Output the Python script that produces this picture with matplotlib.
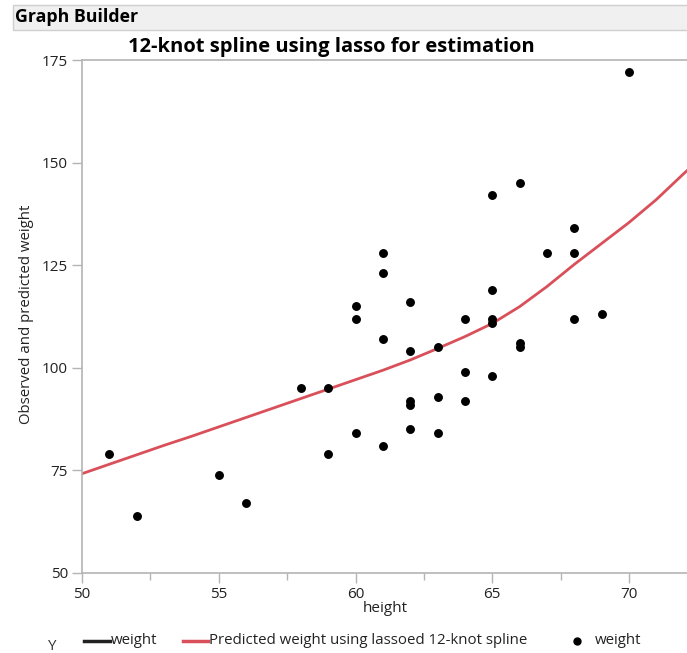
import matplotlib
matplotlib.use("Agg")
import matplotlib.pyplot as plt
from matplotlib.patches import Rectangle
from matplotlib.lines import Line2D

plt.rcParams['font.family'] = ['Open Sans', 'DejaVu Sans']

# Observed data
height = [51, 52, 55, 56, 58, 59, 59, 60, 60, 60, 61, 61, 61, 61,
          62, 62, 62, 62, 62, 63, 63, 63, 64, 64, 64,
          65, 65, 65, 65, 65, 66, 66, 66, 67, 68, 68, 68, 69, 70]
weight = [79, 64, 74, 67, 95, 95, 79, 115, 112, 84, 128, 123, 107, 81,
          116, 104, 92, 91, 85, 105, 93, 84, 112, 99, 92,
          142, 119, 112, 111, 98, 145, 106, 105, 128, 134, 128, 112, 113, 172]

# Predicted weight from the lassoed 12-knot spline
spline_height = [50, 51, 52, 53, 54, 55, 56, 57, 58, 59, 60, 61,
                 62, 63, 64, 65, 66, 67, 68, 69, 70, 71, 72, 72.2]
spline_weight = [74.2, 76.5, 78.8, 81.1, 83.3, 85.6, 87.9, 90.2, 92.5, 94.8, 97.1, 99.4,
                 101.9, 104.7, 107.6, 110.8, 114.9, 119.8, 125.2, 130.3, 135.4, 141.0, 147.3, 148.5]

x_ticks = [50, 55, 60, 65, 70]
y_ticks = [50, 75, 100, 125, 150, 175]

W, H = 687, 653
fig = plt.figure(figsize=(W / 100, H / 100), dpi=100)

def fx(px):
    return px / W

def fy(py):
    return 1 - py / H

TXT = '#222222'
GRID = '#B4B4B4'
RED = '#D9505A'

# Header bar
fig.patches.append(Rectangle((fx(13), fy(30)), fx(680), 25 / H, transform=fig.transFigure,
                             facecolor='#F0F0F0', edgecolor='#CFCFCF', linewidth=1.0))
fig.text(fx(15), fy(17.5), 'Graph Builder', fontsize=12.8, fontweight='bold',
         va='center', ha='left', color='black')

ax_right_px = 692
x_scale = 27.35  # pixels per unit of height
ax = fig.add_axes([fx(82), fy(573), fx(ax_right_px - 82), (573 - 60) / H])
ax.set_xlim(50, 50 + (ax_right_px - 82) / x_scale)
ax.set_ylim(50, 175)

ax.plot(spline_height, spline_weight, color=RED, linewidth=2.0, zorder=2)
ax.plot(height, weight, linestyle='none', marker='o', markersize=5.4,
        color='black', zorder=3)

ax.set_xticks(x_ticks)
ax.set_xticks([52.5, 57.5, 62.5, 67.5], minor=True)
ax.set_yticks(y_ticks)
ax.tick_params(axis='both', which='major', length=7, color=GRID, width=1,
               labelsize=11, labelcolor=TXT, pad=3)
ax.tick_params(axis='x', which='minor', length=5, color=GRID, width=1)

for side in ['left', 'bottom', 'top']:
    ax.spines[side].set_color(GRID)
    ax.spines[side].set_linewidth(1.2)
ax.spines['right'].set_visible(False)

fig.text(fx(331.5), fy(47), '12-knot spline using lasso for estimation', fontsize=14.5,
         fontweight='bold', ha='center', va='center', color='black')
fig.text(fx(385), fy(609), 'height', fontsize=11, ha='center', va='center', color=TXT)
fig.text(fx(27), fy(314), 'Observed and predicted weight', fontsize=10.8, rotation=90,
         ha='center', va='center', color=TXT)

# Legend along the bottom
ly = fy(641)
fig.text(fx(52), fy(647), 'Y', fontsize=10.8, ha='center', va='center', color='#333333')
fig.lines.append(Line2D([fx(84), fx(110)], [ly, ly], transform=fig.transFigure,
                        color=TXT, linewidth=2.5))
fig.text(fx(111), ly, 'weight', fontsize=10.8, ha='left', va='center', color=TXT)
fig.lines.append(Line2D([fx(183), fx(208)], [ly, ly], transform=fig.transFigure,
                        color=RED, linewidth=2.5))
fig.text(fx(209), ly, 'Predicted weight using lassoed 12-knot spline', fontsize=10.8,
         ha='left', va='center', color=TXT)
fig.lines.append(Line2D([fx(577)], [ly], transform=fig.transFigure, marker='o',
                        markersize=5, color='black', linestyle='none'))
fig.text(fx(595), ly, 'weight', fontsize=10.8, ha='left', va='center', color=TXT)

fig.savefig('out.png', dpi=100)
